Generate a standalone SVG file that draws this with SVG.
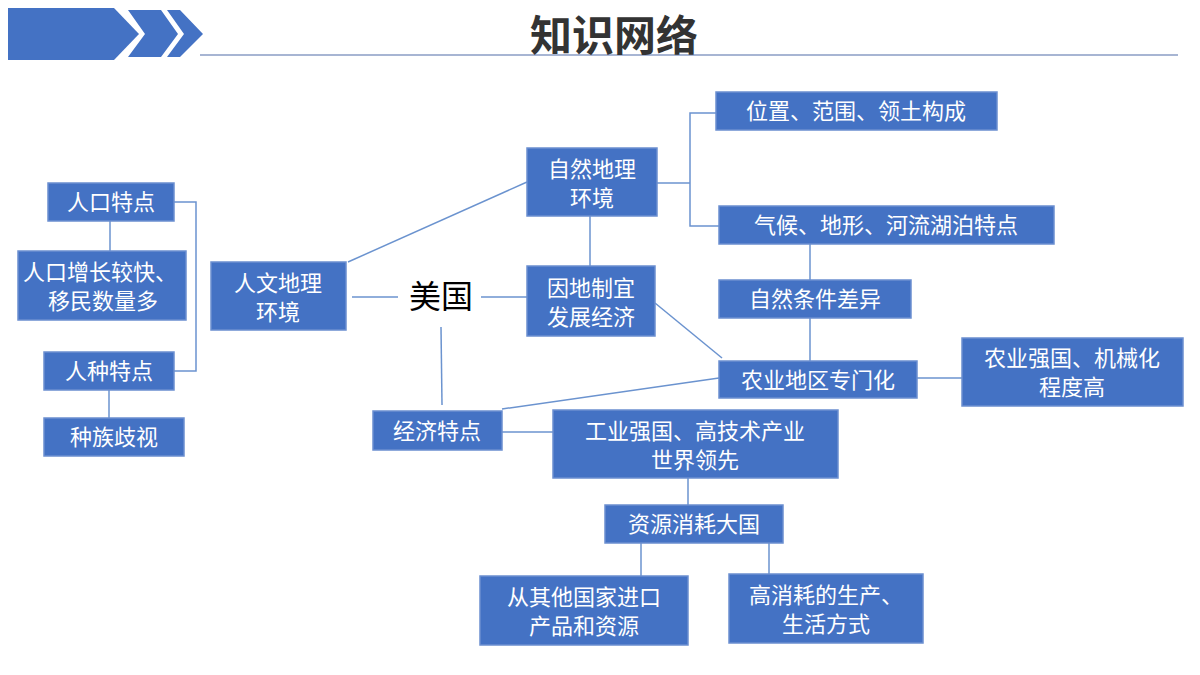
<svg xmlns="http://www.w3.org/2000/svg" width="1200" height="675" viewBox="0 0 1200 675">
<style>
.n rect{fill:#4472C4;stroke:#6b8fd0;stroke-width:1.5}
.n text{fill:#fff;font-family:"Noto Sans CJK SC","Noto Sans",sans-serif;font-size:22px;text-anchor:middle}
#conn line,#conn polyline{stroke:#6b93cf;stroke-width:1.5;fill:none}
</style>
<rect width="1200" height="675" fill="#fff"/>
<g fill="#4472C4">
<polygon points="8,8 114,8 139,34 114,60 8,60"/>
<polygon points="128,10 161,10 178,34 161,57 128,57 145,34"/>
<polygon points="167,10 180,10 203,34 180,57 167,57 184,34"/>
</g>
<line x1="200" y1="55" x2="1178" y2="55" stroke="#8a9cc4" stroke-width="1.5"/>
<text x="614" y="51" font-family="Noto Sans CJK SC,sans-serif" font-size="42" fill="#333" text-anchor="middle" font-weight="bold">知识网络</text>
<g id="conn">
<polyline points="174,202 196,202 196,371 174,371"/>
<line x1="110" y1="221" x2="110" y2="251"/>
<line x1="109" y1="390" x2="109" y2="418"/>
<line x1="348" y1="262" x2="527" y2="182"/>
<line x1="352" y1="297" x2="398" y2="297"/>
<line x1="481" y1="297" x2="527" y2="297"/>
<line x1="441" y1="327" x2="442" y2="405"/>
<line x1="590" y1="216" x2="590" y2="266"/>
<polyline points="657,183 690,183"/>
<polyline points="716,113 690,113 690,226 719,226"/>
<line x1="810" y1="244" x2="810" y2="280"/>
<line x1="810" y1="318" x2="810" y2="361"/>
<line x1="655" y1="303" x2="722" y2="358"/>
<line x1="502" y1="409" x2="719" y2="378"/>
<line x1="502" y1="432" x2="553" y2="432"/>
<line x1="917" y1="378" x2="962" y2="378"/>
<line x1="688" y1="478" x2="688" y2="505"/>
<line x1="641" y1="543" x2="641" y2="576"/>
<line x1="769" y1="543" x2="769" y2="574"/>
</g>
<g id="n1" class="n"><rect x="48" y="183" width="126" height="38"/><text x="111" y="210">人口特点</text></g>
<g id="n2" class="n"><rect x="18" y="251" width="168" height="69"/><text x="100" y="280">人口增长较快、</text><text x="103" y="309">移民数量多</text></g>
<g id="n3" class="n"><rect x="44" y="352" width="130" height="38"/><text x="109" y="379">人种特点</text></g>
<g id="n4" class="n"><rect x="44" y="418" width="140" height="38"/><text x="114" y="445">种族歧视</text></g>
<g id="n5" class="n"><rect x="211" y="262" width="135" height="68"/><text x="278" y="291">人文地理</text><text x="278" y="320">环境</text></g>
<g id="n6"><text x="441" y="308" font-family="Noto Sans CJK SC,sans-serif" font-size="32" text-anchor="middle" fill="#000">美国</text></g>
<g id="n7" class="n"><rect x="527" y="148" width="130" height="68"/><text x="592" y="177">自然地理</text><text x="592" y="206">环境</text></g>
<g id="n8" class="n"><rect x="527" y="266" width="128" height="70"/><text x="591" y="296">因地制宜</text><text x="591" y="325">发展经济</text></g>
<g id="n9" class="n"><rect x="716" y="92" width="281" height="38"/><text x="856" y="119">位置、范围、领土构成</text></g>
<g id="n10" class="n"><rect x="719" y="206" width="335" height="38"/><text x="886" y="233">气候、地形、河流湖泊特点</text></g>
<g id="n11" class="n"><rect x="719" y="280" width="192" height="38"/><text x="815" y="307">自然条件差异</text></g>
<g id="n12" class="n"><rect x="719" y="361" width="198" height="37"/><text x="818" y="388">农业地区专门化</text></g>
<g id="n13" class="n"><rect x="962" y="338" width="221" height="68"/><text x="1072" y="366">农业强国、机械化</text><text x="1072" y="395">程度高</text></g>
<g id="n14" class="n"><rect x="373" y="411" width="129" height="39"/><text x="437" y="439">经济特点</text></g>
<g id="n15" class="n"><rect x="553" y="410" width="285" height="68"/><text x="695" y="439">工业强国、高技术产业</text><text x="695" y="468">世界领先</text></g>
<g id="n16" class="n"><rect x="605" y="505" width="178" height="38"/><text x="694" y="532">资源消耗大国</text></g>
<g id="n17" class="n"><rect x="480" y="576" width="208" height="69"/><text x="584" y="605">从其他国家进口</text><text x="584" y="634">产品和资源</text></g>
<g id="n18" class="n"><rect x="729" y="574" width="194" height="69"/><text x="826" y="603">高消耗的生产、</text><text x="826" y="632">生活方式</text></g>
</svg>
